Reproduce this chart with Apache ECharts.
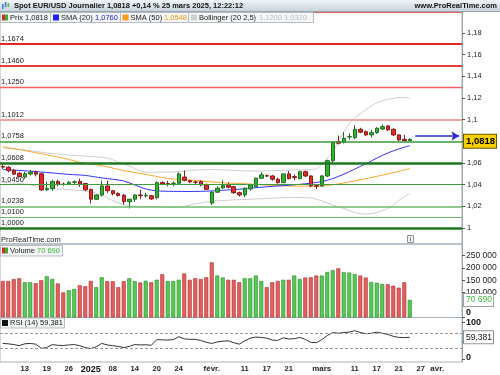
<!DOCTYPE html>
<html>
<head>
<meta charset="utf-8">
<script src="https://cdn.jsdelivr.net/npm/echarts@6/dist/echarts.min.js"></script>
<style>
html,body{margin:0;padding:0;background:#fff;}
#chart{width:500px;height:375px;}
</style>
</head>
<body>
<div id="chart"></div>
<script>
// ---------- DATA ----------
const dates = [
 '2024-12-09','2024-12-10','2024-12-11','2024-12-12','2024-12-13','2024-12-16','2024-12-17','2024-12-18','2024-12-19','2024-12-20',
 '2024-12-23','2024-12-24','2024-12-26','2024-12-27','2024-12-30','2024-12-31','2025-01-02','2025-01-03','2025-01-06','2025-01-07',
 '2025-01-08','2025-01-09','2025-01-10','2025-01-13','2025-01-14','2025-01-15','2025-01-16','2025-01-17','2025-01-20','2025-01-21',
 '2025-01-22','2025-01-23','2025-01-24','2025-01-27','2025-01-28','2025-01-29','2025-01-30','2025-01-31','2025-02-03','2025-02-04',
 '2025-02-05','2025-02-06','2025-02-07','2025-02-10','2025-02-11','2025-02-12','2025-02-13','2025-02-14','2025-02-17','2025-02-18',
 '2025-02-19','2025-02-20','2025-02-21','2025-02-24','2025-02-25','2025-02-26','2025-02-27','2025-02-28','2025-03-03','2025-03-04',
 '2025-03-05','2025-03-06','2025-03-07','2025-03-10','2025-03-11','2025-03-12','2025-03-13','2025-03-14','2025-03-17','2025-03-18',
 '2025-03-19','2025-03-20','2025-03-21','2025-03-24','2025-03-25',
 '2025-03-26','2025-03-27','2025-03-28','2025-03-31','2025-04-01','2025-04-02','2025-04-03','2025-04-04','2025-04-07'
];
const tickDates = ['2024-12-13','2024-12-19','2024-12-26','2025-01-02','2025-01-08','2025-01-14','2025-01-20','2025-01-24',
 '2025-02-03','2025-02-11','2025-02-17','2025-02-21','2025-03-03','2025-03-11','2025-03-17','2025-03-21','2025-03-27','2025-04-01'];
const tickTexts = ['13','19','26','2025','08','14','20','24','févr.','11','17','21','mars','11','17','21','27','avr.'];

const open = [
 1.0568,1.0560,1.0530,1.0505,1.0470,1.0498,1.0515,1.0500,1.0352,1.0362,
 1.0428,1.0404,1.0402,1.0422,1.0430,1.0410,1.0355,1.0265,1.0305,1.0388,
 1.0344,1.0318,1.0302,1.0242,1.0265,1.0305,1.0296,1.0298,1.0280,1.0420,
 1.0410,1.0410,1.0413,1.0470,1.0437,1.0424,1.0428,1.0397,1.0230,1.0330,
 1.0370,1.0394,1.0381,1.0326,1.0305,1.0360,1.0381,1.0459,1.0482,1.0480,
 1.0450,1.0418,1.0499,1.0474,1.0455,1.0520,1.0480,1.0390,1.0388,1.0480,
 1.0621,1.0797,1.0791,1.0840,1.0834,1.0911,1.0889,1.0859,1.0880,1.0914,
 1.0942,1.0911,1.0859,1.0819,1.0806];
const close = [
 1.0562,1.0529,1.0497,1.0475,1.0500,1.0515,1.0497,1.0351,1.0362,1.0428,
 1.0404,1.0402,1.0422,1.0426,1.0406,1.0352,1.0265,1.0305,1.0388,1.0344,
 1.0316,1.0300,1.0243,1.0265,1.0305,1.0298,1.0302,1.0268,1.0418,1.0406,
 1.0408,1.0413,1.0499,1.0440,1.0425,1.0422,1.0397,1.0357,1.0330,1.0367,
 1.0393,1.0376,1.0326,1.0305,1.0367,1.0397,1.0459,1.0490,1.0480,1.0450,
 1.0418,1.0499,1.0455,1.0465,1.0520,1.0480,1.0388,1.0385,1.0480,1.0621,
 1.0791,1.0782,1.0828,1.0843,1.0911,1.0884,1.0859,1.0880,1.0921,1.0935,
 1.0905,1.0859,1.0813,1.0806,1.0818];
const low = [
 1.0545,1.0515,1.0490,1.0468,1.0453,1.0484,1.0475,1.0343,1.0343,1.0345,
 1.0385,1.0390,1.0395,1.0405,1.0380,1.0340,1.0226,1.0258,1.0290,1.0325,
 1.0300,1.0290,1.0215,1.0180,1.0240,1.0265,1.0280,1.0260,1.0265,1.0395,
 1.0385,1.0385,1.0405,1.0430,1.0415,1.0398,1.0385,1.0350,1.0210,1.0325,
 1.0360,1.0365,1.0315,1.0290,1.0285,1.0345,1.0375,1.0455,1.0470,1.0435,
 1.0410,1.0415,1.0450,1.0440,1.0450,1.0470,1.0375,1.0360,1.0380,1.0470,
 1.0600,1.0770,1.0780,1.0815,1.0820,1.0875,1.0850,1.0835,1.0870,1.0905,
 1.0895,1.0850,1.0800,1.0797,1.0797];
const high = [
 1.0592,1.0570,1.0545,1.0516,1.0518,1.0535,1.0530,1.0510,1.0428,1.0445,
 1.0445,1.0420,1.0430,1.0440,1.0455,1.0415,1.0365,1.0310,1.0437,1.0437,
 1.0350,1.0330,1.0315,1.0270,1.0310,1.0352,1.0325,1.0305,1.0430,1.0432,
 1.0435,1.0430,1.0515,1.0530,1.0445,1.0435,1.0440,1.0410,1.0340,1.0385,
 1.0440,1.0420,1.0390,1.0335,1.0375,1.0405,1.0465,1.0515,1.0495,1.0490,
 1.0465,1.0505,1.0525,1.0495,1.0528,1.0528,1.0485,1.0405,1.0490,1.0630,
 1.0800,1.0853,1.0885,1.0875,1.0950,1.0925,1.0900,1.0905,1.0930,1.0955,
 1.0950,1.0920,1.0865,1.0860,1.0830];
const volume = [
 147000,147000,155000,158000,142000,142000,138000,150000,166000,155000,
 137000,101000,110000,115000,130000,126000,147000,122000,162000,146000,
 146000,122000,146000,158000,146000,141000,148000,142000,152000,174000,
 147000,147000,152000,177000,152000,158000,155000,162000,222000,169000,
 161000,152000,152000,142000,158000,158000,169000,147000,122000,142000,
 147000,152000,152000,169000,155000,161000,162000,169000,169000,183000,
 191000,198000,182000,181000,175000,169000,161000,143000,140000,135000,
 134000,128000,120000,142000,70690];
const rsi = [
 43,42,40,37,42,43,41,30,32,40,
 38,37.5,39,40,37,32,29,34,43,39,
 37,35,32,35,40,39,39.5,38,53,52.5,
 52,53,61,55,54,54,51,46,43,47,
 49,50,45,41,50,57,60,59,57,52,
 51,58,55,55.5,59,54,46,45,53,64,
 72,70,72,73,77,72,69,70,73,70,
 67,62,59,58.5,59.381];
// indicator curves: [barIndex, value]
const sma20 = [[0,1.0540],[4,1.0528],[8,1.0512],[12,1.0495],[15,1.0485],[18,1.0462],[20,1.0450],[22,1.0434],[24,1.0397],[26,1.0360],
 [28,1.0343],[31,1.0338],[34,1.0337],[37,1.0340],[40,1.0348],[43,1.0358],[46,1.0372],[49,1.0384],[52,1.0394],[55,1.0408],
 [57,1.0420],[59,1.0440],[61,1.0475],[63,1.0520],[65,1.0568],[67,1.0618],[69,1.0670],[71,1.0712],[73,1.0745],[74,1.0760]];
const sma50 = [[0,1.0751],[6,1.0695],[11,1.0645],[14,1.0607],[18,1.0575],[22,1.0530],[26,1.0495],[30,1.0457],[35,1.0439],
 [40,1.0417],[45,1.0406],[50,1.0390],[55,1.0386],[58,1.0388],[62,1.0415],[66,1.0455],[70,1.0499],[74,1.0548]];
const bbUpper = [[0,1.0739],[4,1.0720],[8,1.0693],[12,1.0674],[16,1.0660],[19,1.0646],[21,1.0609],[23,1.0572],[26,1.0515],[30,1.0515],
 [34,1.0530],[38,1.0540],[42,1.0531],[46,1.0526],[50,1.0531],[54,1.0536],[57,1.0545],[58,1.0591],[59,1.0646],[60,1.0702],
 [61,1.0794],[62,1.0886],[63,1.0960],[64,1.1016],[65,1.1053],[66,1.1090],[67,1.1127],[68,1.1154],[69,1.1173],[70,1.1187],
 [71,1.1196],[72,1.1205],[73,1.1205],[74,1.1200]];
const bbLower = [[0,1.0420],[4,1.0406],[7,1.0379],[10,1.0360],[14,1.0346],[17,1.0323],[19,1.0277],[21,1.0231],[23,1.0203],[26,1.0199],
 [29,1.0194],[32,1.0189],[34,1.0212],[37,1.0240],[40,1.0254],[44,1.0263],[48,1.0272],[52,1.0282],[56,1.0277],[58,1.0249],
 [60,1.0212],[62,1.0180],[64,1.0143],[66,1.0129],[68,1.0143],[70,1.0180],[72,1.0254],[74,1.0320]];
const levels = [1.1960,1.1674,1.1460,1.1250,1.1012,1.0758,1.0608,1.0450,1.0238,1.0100,1.0000];
const arrowLevel = 1.0849;
const priceTicks = [1.00,1.02,1.04,1.06,1.08,1.10,1.12,1.14,1.16,1.18];
const volTicks = [0,50000,100000,150000,200000,250000];
const rsiTicks = [0,50,100];

// ---------- STYLE / BUILD ----------
const levelLook = [['#e52b2b',1.5],['#e42626',2],['#e93c3c',2],['#f06262',1.3],['#f4a3a3',2],
 ['#3a9a3a',1.5],['#1d781d',2.5],['#3f9d3f',1.2],['#6bbb6b',1.5],['#6cb86c',1.2],['#1d781d',2.5]];
const FONT = '"Liberation Sans", Arial, sans-serif';
const f4 = v => v.toFixed(4).replace('.', ',');
const fAxis = v => String(+(+v).toFixed(4)).replace('.', ',');
const fK = v => String(Math.round(v)).replace(/\B(?=(\d{3})+(?!\d))/g, ' ');
const last = close.length - 1;
const toCat = arr => arr.map(p => [dates[p[0]], p[1]]);
const CLEAR = 'rgba(0,0,0,0)';

const candleData = open.map((o, i) => [o, close[i], low[i], high[i]]);
const volData = volume.map((v, i) => {
  const up = i > 0 && close[i] >= close[i - 1];
  return {value: v, itemStyle: {color: up ? '#55c955' : '#e35f5f', borderColor: up ? '#2a8c2a' : '#b03030', borderWidth: 0.6}};
});

const G = [];
const rect = (x, y, w, h, fill, stroke) => G.push({type: 'rect', z: 100, shape: {x, y, width: w, height: h},
  style: {fill, stroke: stroke || null, lineWidth: stroke ? 1 : 0}});
const txt = (x, y, text, fill, font, align) => G.push({type: 'text', z: 101, x, y,
  style: {text, fill, font: font || ('7.5px ' + FONT), align: align || 'left', verticalAlign: 'middle'}});

// header
G.push({type: 'rect', z: 100, shape: {x: 0, y: 0, width: 500, height: 11.5},
  style: {fill: new echarts.graphic.LinearGradient(0, 0, 0, 1, [{offset: 0, color: '#f1f5f8'}, {offset: 1, color: '#c6d3db'}])}});
G.push({type: 'line', z: 100, shape: {x1: 0, y1: 11.5, x2: 500, y2: 11.5}, style: {stroke: '#98a6b0', lineWidth: 1}});
rect(2, 4, 1.6, 5, '#3d7fd6'); rect(4.8, 2, 1.6, 5, '#3d7fd6'); rect(7.6, 3, 1.6, 4, '#4fb84f');
txt(14, 6, 'Spot EUR/USD Journalier ' + f4(close[last]) + ' +0,14 % 25 mars 2025, 12:22:12', '#111', 'bold 7.5px ' + FONT);
txt(497, 6, 'www.ProRealTime.com', '#111', 'bold 7.5px ' + FONT, 'right');
// legend row
const LB = '#f4f5f6', LS = '#b5bdc3';
rect(0.5, 12.5, 50, 10, LB, LS); rect(2, 14.5, 3, 6, '#e02a2a'); rect(5, 14.5, 3, 6, '#2fb52f');
txt(10, 17.8, 'Prix ' + f4(close[last]), '#222');
rect(50.5, 12.5, 70, 10, LB, LS); rect(53, 14.5, 6, 6, '#1f1fff');
txt(61, 17.8, 'SMA (20)', '#222'); txt(95, 17.8, f4(sma20[sma20.length - 1][1]), '#2323e6');
rect(120.5, 12.5, 68, 10, LB, LS); rect(122.5, 14.5, 6, 6, '#ff9d1f');
txt(130.5, 17.8, 'SMA (50)', '#222'); txt(164, 17.8, f4(sma50[sma50.length - 1][1]), '#f0960f');
rect(188.5, 12.5, 125, 10, LB, LS); rect(191, 14.5, 6, 6, '#cfcfcf');
txt(199, 17.8, 'Bollinger (20 2,5)', '#222');
txt(259, 17.8, f4(bbUpper[bbUpper.length - 1][1]) + ' ' + f4(bbLower[bbLower.length - 1][1]), '#bdbdbd');
// price panel footer
txt(1, 239.5, 'ProRealTime.com', '#222');
rect(407.5, 235.5, 6, 7, '#f4f4f4', '#8a949b');
txt(410.5, 239.2, 'i', '#555', 'bold 6px ' + FONT, 'center');
// volume legend
rect(0.5, 245.5, 62, 10.5, LB, LS); rect(2, 247.5, 3, 6, '#e02a2a'); rect(5, 247.5, 3, 6, '#2fb52f');
txt(10, 251, 'Volume', '#222'); txt(37, 251, fK(volume[last]), '#3cb83c');
// rsi legend
rect(0.5, 318, 64, 10, LB, LS); rect(2, 320, 6, 6, '#111');
txt(10, 323.2, 'RSI (14)', '#222'); txt(40, 323.2, rsi[last].toFixed(3).replace('.', ','), '#111');

const chart = echarts.init(document.getElementById('chart'));
const axisLineStyle = {show: true, lineStyle: {color: '#9aa5ad', width: 1}};
const valueTag = (text, color, border, bg, size, bold) => ({show: true, position: 'end', distance: 2, formatter: text, color,
  fontSize: size, fontWeight: bold ? 'bold' : 'normal', fontFamily: FONT, backgroundColor: bg, borderColor: border, borderWidth: 1,
  padding: [2, 1, 1, 2]});
const option = {
  animation: false,
  textStyle: {fontFamily: FONT},
  grid: [
    {left: 0, top: 11, width: 462, height: 233, show: true, borderColor: '#a7b1b8', borderWidth: 1},
    {left: 0, top: 244, width: 462, height: 73.5, show: true, borderColor: '#a7b1b8', borderWidth: 1},
    {left: 0, top: 317.5, width: 462, height: 44.5, show: true, borderColor: '#a7b1b8', borderWidth: 1}
  ],
  xAxis: [
    {gridIndex: 0, type: 'category', data: dates, boundaryGap: true, show: false},
    {gridIndex: 1, type: 'category', data: dates, boundaryGap: true, show: false},
    {gridIndex: 2, type: 'category', data: dates, boundaryGap: true,
      axisLine: {show: false}, axisTick: {show: false}, splitLine: {show: false},
      axisLabel: {
        interval: (i, v) => tickDates.indexOf(v) >= 0, margin: 3, color: '#222',
        formatter: v => {
          const t = tickTexts[tickDates.indexOf(v)];
          if (t === undefined) return '';
          if (/^\d{2}$/.test(t)) return '{n|' + t + '}';
          if (/^\d{4}$/.test(t)) return '{y|' + t + '}';
          return '{m|' + t + '}';
        },
        rich: {
          n: {fontSize: 7.5, fontWeight: 'bold', color: '#222', fontFamily: FONT},
          m: {fontSize: 8, fontWeight: 'bold', color: '#222', fontFamily: FONT},
          y: {fontSize: 9, fontWeight: 'bold', color: '#111', fontFamily: FONT}
        }
      }}
  ],
  yAxis: [
    {gridIndex: 0, type: 'value', position: 'right', min: 0.9852, max: 1.2003,
      axisLine: axisLineStyle, splitLine: {show: false},
      axisTick: {show: true, customValues: priceTicks, length: 3, lineStyle: {color: '#555'}},
      axisLabel: {customValues: priceTicks, formatter: fAxis, fontSize: 7.5, color: '#222', margin: 5}},
    {gridIndex: 1, type: 'value', position: 'right', min: 0, max: 296000,
      axisLine: axisLineStyle, splitLine: {show: false},
      axisTick: {show: true, customValues: volTicks, length: 3, lineStyle: {color: '#555'}},
      axisLabel: {customValues: volTicks, fontSize: 8.5, color: '#222', margin: 4, showMinLabel: true, showMaxLabel: true,
        hideOverlap: false,
        formatter: v => v === 0 ? '{z|0}' : fK(v),
        rich: {z: {fontWeight: 'bold', fontSize: 9, color: '#111', padding: [0, 0, 10, 0], fontFamily: FONT}}}},
    {gridIndex: 2, type: 'value', position: 'right', min: -6.5, max: 112.1,
      axisLine: axisLineStyle, splitLine: {show: false},
      axisTick: {show: true, customValues: rsiTicks, length: 3, lineStyle: {color: '#555'}},
      axisLabel: {customValues: rsiTicks, fontSize: 9, fontWeight: 'bold', color: '#111', margin: 4, showMinLabel: true,
        formatter: v => v === 0 ? '{z|0}' : String(v),
        rich: {z: {fontWeight: 'bold', fontSize: 9, color: '#111', padding: [0, 0, 5, 0], fontFamily: FONT}}}}
  ],
  series: [
    {type: 'line', name: 'levels', xAxisIndex: 0, yAxisIndex: 0, data: close.map(() => null), z: 1, silent: true, symbol: 'none',
      lineStyle: {color: CLEAR},
      markLine: {
        silent: true, symbol: ['none', 'none'], animation: false,
        label: {position: 'insideStartTop', distance: 1, color: '#222', fontSize: 7.5, fontFamily: FONT},
        data: levels.map((v, i) => ({yAxis: v,
          lineStyle: {color: levelLook[i][0], width: levelLook[i][1], type: 'solid'},
          label: {show: i > 0, formatter: f4(v), color: '#222'}})).concat([
          [{coord: [dates[75], arrowLevel], symbol: 'none', lineStyle: {color: '#2b2bd6', width: 1.5, type: 'solid'}, label: {show: false}},
           {coord: [dates[83], arrowLevel], symbol: 'arrow', symbolSize: [7, 8]}]
        ])
      }},
    {type: 'line', name: 'tagPrice', xAxisIndex: 0, yAxisIndex: 0, data: close.map(() => null), z: 6, silent: true, symbol: 'none',
      lineStyle: {color: CLEAR},
      markLine: {silent: true, symbol: ['none', 'none'], animation: false,
        data: [{yAxis: close[last], lineStyle: {color: CLEAR, width: 1},
          label: valueTag(f4(close[last]), '#000', '#6b5a00', '#f6cf00', 9.5, true)}]}},
    {type: 'line', name: 'BB upper', xAxisIndex: 0, yAxisIndex: 0, data: toCat(bbUpper), smooth: 0.3, symbol: 'none', z: 2,
      lineStyle: {color: '#cdcdcd', width: 1}, silent: true},
    {type: 'line', name: 'BB lower', xAxisIndex: 0, yAxisIndex: 0, data: toCat(bbLower), smooth: 0.3, symbol: 'none', z: 2,
      lineStyle: {color: '#cdcdcd', width: 1}, silent: true},
    {type: 'line', name: 'SMA50', xAxisIndex: 0, yAxisIndex: 0, data: toCat(sma50), smooth: 0.3, symbol: 'none', z: 3,
      lineStyle: {color: '#ffa52a', width: 1}, silent: true},
    {type: 'line', name: 'SMA20', xAxisIndex: 0, yAxisIndex: 0, data: toCat(sma20), smooth: 0.3, symbol: 'none', z: 3,
      lineStyle: {color: '#3030ff', width: 1}, silent: true},
    {type: 'candlestick', name: 'Prix', xAxisIndex: 0, yAxisIndex: 0, data: candleData, barWidth: 4, z: 4,
      itemStyle: {color: '#2db52d', color0: '#e42b2b', borderColor: '#236c23', borderColor0: '#8b1a1a',
        borderColorDoji: '#222', borderWidth: 1}},
    {type: 'bar', name: 'Volume', xAxisIndex: 1, yAxisIndex: 1, data: volData, barWidth: 4,
      markLine: {silent: true, symbol: ['none', 'none'], animation: false,
        data: [{yAxis: volume[last], lineStyle: {color: CLEAR, width: 1},
          label: valueTag(fK(volume[last]), '#3cb83c', '#9aa5ad', '#fff', 8.5, false)}]}},
    {type: 'line', name: 'RSI', xAxisIndex: 2, yAxisIndex: 2, data: rsi, symbol: 'none',
      lineStyle: {color: '#333', width: 1},
      markLine: {silent: true, symbol: ['none', 'none'], animation: false,
        data: [
          {yAxis: 70, lineStyle: {color: '#999', width: 1, type: [3, 2]}, label: {show: false}},
          {yAxis: 30, lineStyle: {color: '#999', width: 1, type: [3, 2]}, label: {show: false}},
          {yAxis: rsi[last], lineStyle: {color: CLEAR, width: 1},
            label: valueTag(rsi[last].toFixed(3).replace('.', ','), '#111', '#8a949b', '#fff', 8.5, false)}
        ]}}
  ],
  graphic: {elements: G}
};
chart.setOption(option);
</script>
</body>
</html>
